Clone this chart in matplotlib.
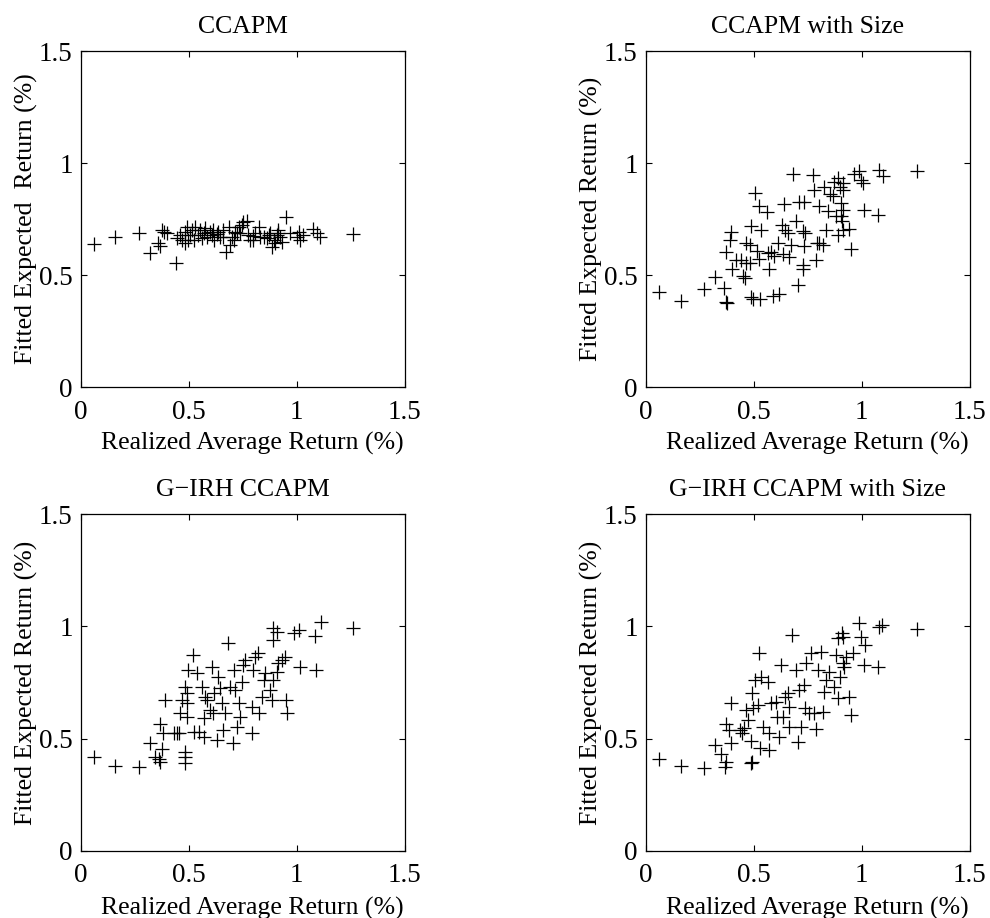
import matplotlib
matplotlib.use("Agg")
from matplotlib import pyplot as plt
import numpy as np

# realized (x) and fitted (y) average returns
ccapm_x = [0.062, 0.159, 0.267, 0.318, 0.367, 0.355, 0.375, 0.383, 0.398, 0.441, 0.444, 0.468,
           0.483, 0.491, 0.498, 0.514, 0.529, 0.540, 0.552, 0.568, 0.575, 0.586, 0.599, 0.614,
           0.617, 0.630, 0.645, 0.657, 0.673, 0.684, 0.691, 0.699, 0.715, 0.722, 0.730, 0.745,
           0.753, 0.769, 0.776, 0.784, 0.796, 0.807, 0.823, 0.831, 0.846, 0.861, 0.877, 0.884,
           0.895, 0.907, 0.915, 0.923, 0.930, 0.951, 0.969, 1.000, 1.012, 1.015, 1.077, 1.093,
           1.108, 1.259, 0.483, 0.506, 0.560, 0.606, 0.660, 0.707, 0.738, 0.799, 0.869, 0.900,
           0.915, 1.031, 0.460, 0.522, 0.637]
ccapm_y = [0.639, 0.672, 0.689, 0.600, 0.630, 0.642, 0.701, 0.694, 0.689, 0.553, 0.664, 0.657,
           0.694, 0.716, 0.657, 0.701, 0.716, 0.679, 0.701, 0.686, 0.709, 0.672, 0.694, 0.701,
           0.657, 0.684, 0.672, 0.669, 0.605, 0.716, 0.634, 0.672, 0.694, 0.686, 0.716, 0.724,
           0.738, 0.743, 0.679, 0.657, 0.675, 0.686, 0.716, 0.669, 0.672, 0.664, 0.686, 0.627,
           0.657, 0.679, 0.701, 0.672, 0.649, 0.761, 0.686, 0.672, 0.694, 0.657, 0.704, 0.686,
           0.672, 0.684, 0.642, 0.679, 0.664, 0.679, 0.701, 0.657, 0.686, 0.657, 0.679, 0.642,
           0.686, 0.679, 0.679, 0.657, 0.694]

size_x = [0.062, 0.162, 0.268, 0.318, 0.360, 0.370, 0.375, 0.394, 0.388, 0.372, 0.398, 0.418,
          0.442, 0.449, 0.462, 0.460, 0.465, 0.480, 0.488, 0.480, 0.488, 0.495, 0.505, 0.522,
          0.514, 0.526, 0.529, 0.534, 0.560, 0.572, 0.565, 0.580, 0.588, 0.611, 0.618, 0.595,
          0.629, 0.640, 0.634, 0.646, 0.657, 0.665, 0.672, 0.680, 0.695, 0.705, 0.708, 0.726,
          0.734, 0.734, 0.726, 0.729, 0.738, 0.774, 0.780, 0.788, 0.791, 0.800, 0.803, 0.818,
          0.826, 0.834, 0.842, 0.854, 0.865, 0.872, 0.880, 0.888, 0.892, 0.898, 0.903, 0.903,
          0.908, 0.911, 0.915, 0.911, 0.914, 0.942, 0.949, 0.965, 0.985, 0.998, 1.006, 1.012,
          1.080, 1.077, 1.098, 1.257]
size_y = [0.426, 0.385, 0.436, 0.493, 0.444, 0.380, 0.374, 0.691, 0.655, 0.605, 0.528, 0.565,
          0.565, 0.496, 0.555, 0.488, 0.643, 0.632, 0.720, 0.555, 0.400, 0.392, 0.865, 0.806,
          0.606, 0.570, 0.395, 0.703, 0.783, 0.525, 0.600, 0.602, 0.407, 0.643, 0.414, 0.584,
          0.725, 0.818, 0.592, 0.703, 0.688, 0.581, 0.636, 0.951, 0.740, 0.454, 0.828, 0.695,
          0.828, 0.629, 0.525, 0.547, 0.688, 0.947, 0.880, 0.567, 0.643, 0.806, 0.643, 0.636,
          0.895, 0.703, 0.784, 0.861, 0.851, 0.917, 0.762, 0.680, 0.932, 0.895, 0.821, 0.762,
          0.740, 0.703, 0.791, 0.880, 0.910, 0.706, 0.617, 0.951, 0.966, 0.925, 0.910, 0.791,
          0.969, 0.769, 0.942, 0.966]

girh_x = [0.062, 0.159, 0.267, 0.318, 0.344, 0.360, 0.364, 0.367, 0.375, 0.380, 0.390, 0.429,
          0.444, 0.452, 0.460, 0.468, 0.483, 0.483, 0.483, 0.483, 0.491, 0.491, 0.491, 0.498,
          0.519, 0.525, 0.537, 0.545, 0.560, 0.568, 0.568, 0.575, 0.583, 0.599, 0.606, 0.611,
          0.617, 0.630, 0.637, 0.645, 0.653, 0.660, 0.668, 0.679, 0.691, 0.707, 0.704, 0.715,
          0.722, 0.730, 0.738, 0.745, 0.753, 0.761, 0.792, 0.792, 0.799, 0.807, 0.819, 0.823,
          0.838, 0.846, 0.853, 0.877, 0.884, 0.892, 0.889, 0.892, 0.907, 0.910, 0.915, 0.930,
          0.946, 0.951, 0.954, 0.985, 1.008, 1.015, 1.085, 1.090, 1.111, 1.259]
girh_y = [0.417, 0.380, 0.375, 0.479, 0.420, 0.408, 0.398, 0.565, 0.453, 0.524, 0.672, 0.524,
          0.527, 0.524, 0.613, 0.672, 0.442, 0.420, 0.390, 0.731, 0.598, 0.657, 0.702, 0.806,
          0.872, 0.531, 0.791, 0.531, 0.731, 0.509, 0.590, 0.687, 0.672, 0.628, 0.820, 0.613,
          0.702, 0.494, 0.776, 0.724, 0.657, 0.539, 0.613, 0.924, 0.731, 0.806, 0.479, 0.717,
          0.553, 0.657, 0.598, 0.754, 0.828, 0.850, 0.524, 0.642, 0.806, 0.865, 0.880, 0.613,
          0.687, 0.761, 0.791, 0.717, 0.672, 0.761, 0.991, 0.939, 0.976, 0.798, 0.835, 0.850,
          0.865, 0.672, 0.613, 0.969, 0.984, 0.820, 0.957, 0.806, 1.021, 0.994]

girh_size_x = [0.062, 0.162, 0.268, 0.318, 0.349, 0.365, 0.372, 0.369, 0.385, 0.392, 0.395, 0.437,
               0.446, 0.452, 0.465, 0.472, 0.488, 0.488, 0.492, 0.492, 0.495, 0.503, 0.518, 0.523,
               0.529, 0.534, 0.542, 0.565, 0.569, 0.572, 0.578, 0.603, 0.606, 0.618, 0.626, 0.634,
               0.642, 0.657, 0.662, 0.665, 0.677, 0.695, 0.703, 0.711, 0.718, 0.734, 0.738, 0.742,
               0.757, 0.765, 0.780, 0.788, 0.795, 0.811, 0.818, 0.826, 0.834, 0.849, 0.872, 0.880,
               0.888, 0.892, 0.898, 0.908, 0.911, 0.914, 0.918, 0.926, 0.942, 0.949, 0.957, 0.985,
               0.995, 1.015, 1.012, 1.080, 1.095, 1.077, 1.257]
girh_size_y = [0.408, 0.378, 0.368, 0.472, 0.432, 0.375, 0.398, 0.565, 0.539, 0.660, 0.482, 0.539,
               0.527, 0.546, 0.628, 0.583, 0.490, 0.390, 0.398, 0.702, 0.635, 0.761, 0.650, 0.883,
               0.457, 0.776, 0.553, 0.754, 0.524, 0.450, 0.657, 0.665, 0.598, 0.509, 0.828, 0.598,
               0.687, 0.702, 0.553, 0.642, 0.961, 0.806, 0.487, 0.717, 0.553, 0.739, 0.635, 0.835,
               0.613, 0.880, 0.613, 0.542, 0.806, 0.887, 0.620, 0.709, 0.761, 0.798, 0.731, 0.872,
               0.947, 0.680, 0.776, 0.969, 0.954, 0.835, 0.820, 0.865, 0.687, 0.605, 0.880, 1.013,
               0.954, 0.917, 0.828, 0.999, 1.006, 0.820, 0.987]

titles = ["CCAPM", "CCAPM with Size", "G\u2212IRH CCAPM", "G\u2212IRH CCAPM with Size"]
ylabels = ["Fitted Expected  Return (%)", "Fitted Expected Return (%)",
           "Fitted Expected Return (%)", "Fitted Expected Return (%)"]
xlabel = "Realized Average Return (%)"
ticks = [0, 0.5, 1, 1.5]
tick_labels = ["0", "0.5", "1", "1.5"]

plt.rcParams.update({
    "font.family": "serif",
    "font.serif": ["Liberation Serif", "DejaVu Serif"],
    "font.size": 17,
})

fig = plt.figure(figsize=(9.9, 9.18), dpi=100)
rects = [[0.0818, 0.5784, 0.327, 0.366],
         [0.6525, 0.5784, 0.327, 0.366],
         [0.0818, 0.0730, 0.327, 0.367],
         [0.6525, 0.0730, 0.327, 0.367]]
data = [(ccapm_x, ccapm_y), (size_x, size_y), (girh_x, girh_y), (girh_size_x, girh_size_y)]

for rect, (xs, ys), title, ylab in zip(rects, data, titles, ylabels):
    ax = fig.add_axes(rect)
    ax.plot(xs, ys, linestyle="None", marker="+", color="black", markersize=10, markeredgewidth=0.9)
    ax.set_xlim(0, 1.5)
    ax.set_ylim(0, 1.5)
    ax.set_xticks(ticks)
    ax.set_xticklabels(tick_labels)
    ax.set_yticks(ticks)
    ax.set_yticklabels(tick_labels)
    ax.tick_params(direction="in", top=True, right=True, length=4, width=0.8, labelsize=19.5)
    ax.tick_params(axis="x", pad=9)
    ax.tick_params(axis="y", pad=6)
    for s in ax.spines.values():
        s.set_linewidth(0.9)
    ax.set_title(title, fontsize=18.5, pad=13)
    ax.set_xlabel(xlabel, fontsize=18.5)
    ax.set_ylabel(ylab, fontsize=18.5, labelpad=1)
    ax.xaxis.set_label_coords(0.53, -0.135)

fig.savefig("out.png", dpi=100)
